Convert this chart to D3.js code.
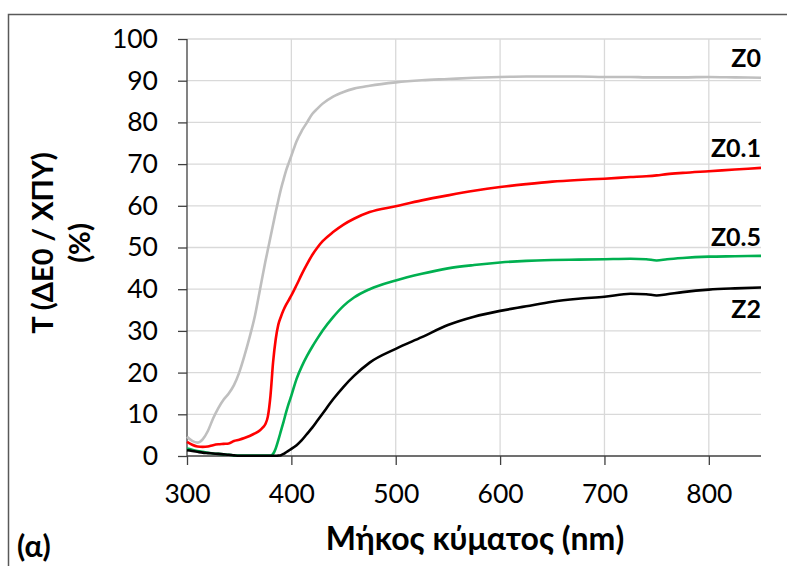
<!DOCTYPE html>
<html>
<head>
<meta charset="utf-8">
<script src="https://cdn.jsdelivr.net/npm/d3@7"></script>
<style>
  html, body { margin: 0; padding: 0; background: #fff; }
  svg { display: block; font-family: Lato, "Open Sans", sans-serif; }
</style>
</head>
<body>
<svg id="chart" width="787" height="566"></svg>
<script>
// Wavelength grid (nm) shared by all transmittance curves
const wavelength = [300, 305, 310, 315, 320, 325, 330, 335, 340, 345, 350, 355, 360, 365, 370,
  372.5, 375, 377.5, 380, 382.5, 385, 387.5, 390, 392.5, 395, 397.5, 400,
  405, 410, 415, 420, 425, 430, 440, 450, 460, 475, 500, 525, 550, 575, 600,
  625, 650, 675, 700, 725, 740, 750, 760, 775, 800, 825, 850];

// Transmittance T (%) for each sample
const tZ0 = [4.6, 3.6, 3.2, 4.0, 6.0, 9.0, 11.5, 13.5, 15.0, 17.0, 20.0, 24.0, 28.5, 33.5, 40.0,
  43.3, 46.5, 49.5, 52.5, 55.5, 58.5, 61.3, 64.0, 66.3, 68.5, 70.3, 72.0,
  75.5, 78.0, 80.0, 82.0, 83.3, 84.5, 86.2, 87.3, 88.1, 88.8, 89.6, 90.1, 90.4, 90.7, 90.9,
  91.0, 91.0, 91.0, 90.9, 90.9, 90.8, 90.8, 90.8, 90.8, 90.9, 90.8, 90.7];
const tZ01 = [3.4, 2.7, 2.3, 2.2, 2.3, 2.6, 2.8, 2.9, 3.0, 3.6, 3.9, 4.3, 4.8, 5.4, 6.2,
  6.8, 7.6, 9.5, 14.5, 22.5, 28.0, 31.5, 33.4, 35.0, 36.3, 37.4, 38.5,
  41.0, 43.6, 46.0, 48.2, 50.0, 51.5, 53.7, 55.5, 56.9, 58.5, 59.9, 61.3, 62.5, 63.6, 64.5,
  65.2, 65.8, 66.2, 66.5, 66.9, 67.1, 67.3, 67.6, 67.9, 68.3, 68.7, 69.1];
const tZ05 = [1.8, 1.5, 1.2, 1.0, 0.8, 0.6, 0.5, 0.4, 0.3, 0.15, 0.1, 0.1, 0.1, 0.1, 0.1,
  0.1, 0.1, 0.1, 0.1, 0.5, 1.8, 3.8, 6.0, 8.2, 10.5, 12.6, 14.5,
  18.5, 21.5, 24.0, 26.2, 28.2, 30.1, 33.3, 36.0, 38.0, 40.0, 42.1, 43.7, 45.0, 45.8, 46.4,
  46.8, 47.0, 47.1, 47.2, 47.3, 47.2, 46.9, 47.2, 47.5, 47.8, 47.9, 48.0];
const tZ2 = [1.4, 1.2, 1.0, 0.8, 0.7, 0.6, 0.5, 0.4, 0.3, 0.15, 0.05, 0.05, 0.05, 0.05, 0.05,
  0.05, 0.05, 0.05, 0.05, 0.05, 0.05, 0.1, 0.2, 0.5, 0.9, 1.3, 1.7,
  2.6, 3.8, 5.3, 6.8, 8.5, 10.2, 13.6, 16.6, 19.2, 22.4, 25.7, 28.5, 31.4, 33.4, 34.8,
  35.9, 37.0, 37.7, 38.2, 38.9, 38.8, 38.5, 38.8, 39.3, 39.9, 40.2, 40.4];

const seriesNames = ["Z0", "Z0.1", "Z0.5", "Z2"];
const seriesValues = [tZ0, tZ01, tZ05, tZ2];
const seriesColors = ["#bfbfbf", "#ff0000", "#00b050", "#000000"];

const xTicks = [300, 400, 500, 600, 700, 800];
const yTicks = [0, 10, 20, 30, 40, 50, 60, 70, 80, 90, 100];

const xTitle = "Μήκος κύματος (nm)";
const yTitleLines = ["T (ΔΕ0 / ΧΠΥ)", "(%)"];
const panelTag = "(α)";

const svg = d3.select("#chart");
const plot = { left: 187, right: 761, top: 39, bottom: 456 };

const x = d3.scaleLinear().domain([300, 850]).range([plot.left, plot.right]);
const y = d3.scaleLinear().domain([0, 100]).range([plot.bottom, plot.top]);

// outer frame
svg.append("rect")
  .attr("x", 8.5).attr("y", 14.5)
  .attr("width", 790).attr("height", 570)
  .attr("fill", "none").attr("stroke", "#595959").attr("stroke-width", 1.5);

// gridlines
const grid = svg.append("g").attr("stroke", "#d9d9d9").attr("stroke-width", 1.3);
grid.selectAll("line.h").data(yTicks.filter(d => d > 0)).join("line")
  .attr("x1", plot.left).attr("x2", plot.right)
  .attr("y1", d => y(d)).attr("y2", d => y(d));
grid.selectAll("line.v").data(xTicks.filter(d => d > 300)).join("line")
  .attr("x1", d => x(d)).attr("x2", d => x(d))
  .attr("y1", plot.top).attr("y2", plot.bottom);

// axes
const yAxis = d3.axisLeft(y).tickValues(yTicks).tickSize(9).tickPadding(20);
const xAxis = d3.axisBottom(x).tickValues(xTicks).tickSize(9).tickPadding(19);

const gy = svg.append("g").attr("transform", `translate(${plot.left},0)`).call(yAxis);
const gx = svg.append("g").attr("transform", `translate(0,${plot.bottom})`).call(xAxis);
[gx, gy].forEach(g => {
  g.select(".domain").attr("stroke", "#404040").attr("stroke-width", 1.3);
  g.selectAll(".tick line").attr("stroke", "#404040").attr("stroke-width", 1.3);
  g.selectAll(".tick text").attr("fill", "#000").style("font-size", "26.5px")
    .style("font-family", "Lato, sans-serif");
});
gx.select(".domain").attr("d", `M${plot.left},0H${plot.right}`);
gy.select(".domain").attr("d", `M0,${plot.bottom}V${plot.top}`);

// curves
const line = d3.line()
  .x((d, i) => x(wavelength[i]))
  .y(d => y(d))
  .curve(d3.curveMonotoneX);

svg.append("g").selectAll("path").data(seriesValues).join("path")
  .attr("d", d => line(d))
  .attr("fill", "none")
  .attr("stroke", (d, i) => seriesColors[i])
  .attr("stroke-width", 2.6)
  .attr("stroke-linejoin", "round");

// curve labels at the right end
const labelBaselines = [67, 157, 246, 318];
svg.append("g").selectAll("text").data(seriesNames).join("text")
  .attr("x", plot.right)
  .attr("y", (d, i) => labelBaselines[i])
  .attr("text-anchor", "end")
  .style("font-size", "25px").style("font-weight", "bold")
  .text(d => d);

// axis titles
svg.append("text")
  .attr("x", 475).attr("y", 550)
  .attr("text-anchor", "middle")
  .style("font-size", "32px").style("font-weight", "bold")
  .text(xTitle);

const yt = svg.append("g").attr("transform", "translate(0,243) rotate(-90)");
yt.selectAll("text").data(yTitleLines).join("text")
  .attr("x", 0)
  .attr("y", (d, i) => 53 + i * 37)
  .attr("text-anchor", "middle")
  .style("font-size", "29px").style("font-weight", "bold")
  .text(d => d);

svg.append("text")
  .attr("x", 17).attr("y", 557)
  .style("font-size", "30px").style("font-weight", "bold")
  .text(panelTag);
</script>
</body>
</html>
